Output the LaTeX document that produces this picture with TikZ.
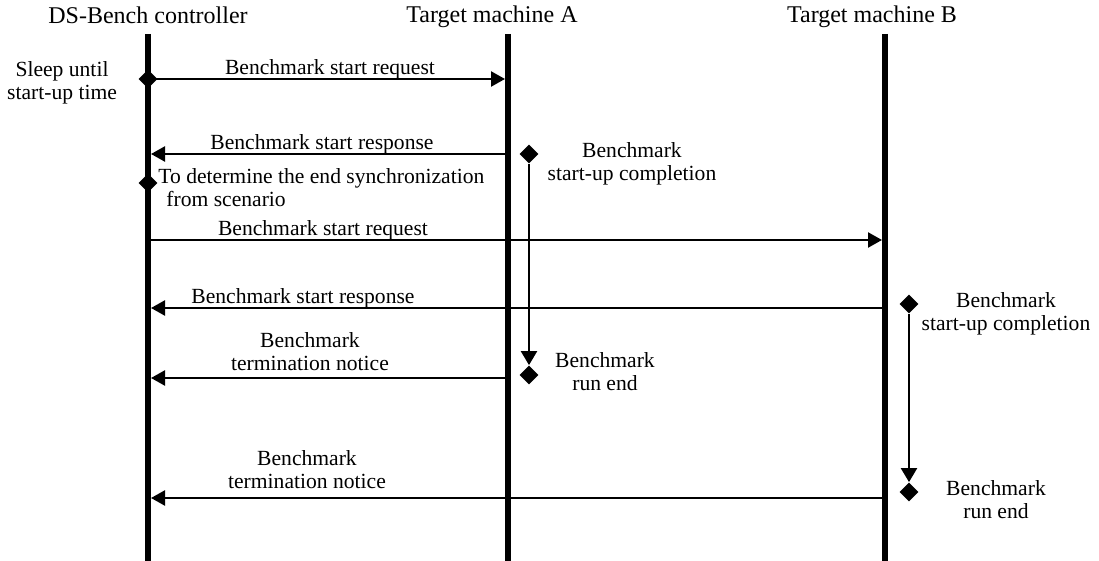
\documentclass[tikz,border=0pt]{standalone}
\usepackage{fontspec}
\setmainfont{Liberation Serif}
\usetikzlibrary{arrows.meta,shapes.geometric}

\begin{document}
\begin{tikzpicture}[x=0.5pt,y=-0.5pt,
  lifeline/.style={line width=3pt},
  msg/.style={line width=1.2pt,-{Triangle[length=7pt,width=7.5pt]}},
  dur/.style={line width=1.2pt,-{Triangle[length=7pt,width=8pt]}},
  evt/.style={diamond,fill=black,inner sep=0pt,minimum size=9.5pt},
  head/.style={font=\fontsize{12}{14}\selectfont,inner sep=0pt},
  txt/.style={font=\fontsize{10.8}{11.5}\selectfont,align=center,inner sep=0pt}]

     \useasboundingbox (0,0) rectangle (1099,561);

     %Lifelines
     \node[head] (ctl) at (148,15) {DS-Bench controller};
     \node[head] (ma)  at (492,17) {Target machine A};
     \node[head] (mb)  at (872,17) {Target machine B};
     \coordinate (ctlTop) at (148,34);  \coordinate (ctlBot) at (148,561);
     \coordinate (maTop)  at (508,34);  \coordinate (maBot)  at (508,561);
     \coordinate (mbTop)  at (885,34);  \coordinate (mbBot)  at (885,561);
     \draw[lifeline] (ctlTop)--(ctlBot);
     \draw[lifeline] (maTop)--(maBot);
     \draw[lifeline] (mbTop)--(mbBot);

     %Controller events
     \node[evt] (sleep) at (148,79) {};
     \node[evt] (sync)  at (148,183) {};
     \node[txt] (sleepTxt) at (62,83) {Sleep until\\start-up time};
     \node[txt,anchor=west,align=left] (syncTxt) at (158,188)
          {To determine the end synchronization\\\hspace*{4pt}from scenario};

     %Machine A
     \coordinate (a1) at (505,79);
     \coordinate (a2) at (508,154);  \coordinate (c2) at (151,154);
     \coordinate (a6) at (508,378);  \coordinate (c6) at (151,378);
     \draw[msg] (sleep.center)--(a1);
     \draw[msg] (a2)--(c2);
     \node[txt,anchor=base] (lab1) at (330,75) {Benchmark start request};
     \node[txt,anchor=base] (lab2) at (322,150) {Benchmark start response};
     \node[evt] (upA)  at (529,154) {};
     \node[evt] (endA) at (529,375) {};
     \draw[dur] (upA)--(endA.north);
     \node[txt] (upAtxt)  at (632,164) {Benchmark\\start-up completion};
     \node[txt] (endAtxt) at (605,372) {Benchmark\\run end};

     %Machine B
     \coordinate (c4) at (148,240);  \coordinate (b4) at (882,240);
     \coordinate (b5) at (885,308);  \coordinate (c5) at (151,308);
     \coordinate (b7) at (885,498);  \coordinate (c7) at (151,498);
     \draw[msg] (c4)--(b4);
     \draw[msg] (b5)--(c5);
     \node[txt,anchor=base] (lab4) at (323,236) {Benchmark start request};
     \node[txt,anchor=base] (lab5) at (303,304) {Benchmark start response};
     \node[evt] (upB)  at (909,304) {};
     \node[evt] (endB) at (909,492) {};
     \draw[dur] (upB)--(endB.north);
     \node[txt] (upBtxt)  at (1006,314) {Benchmark\\start-up completion};
     \node[txt] (endBtxt) at (996,500) {Benchmark\\run end};

     %Termination notices
     \draw[msg] (a6)--(c6);
     \draw[msg] (b7)--(c7);
     \node[txt] (lab6) at (310,352) {Benchmark\\termination notice};
     \node[txt] (lab7) at (307,470) {Benchmark\\termination notice};

\end{tikzpicture}
\end{document}
